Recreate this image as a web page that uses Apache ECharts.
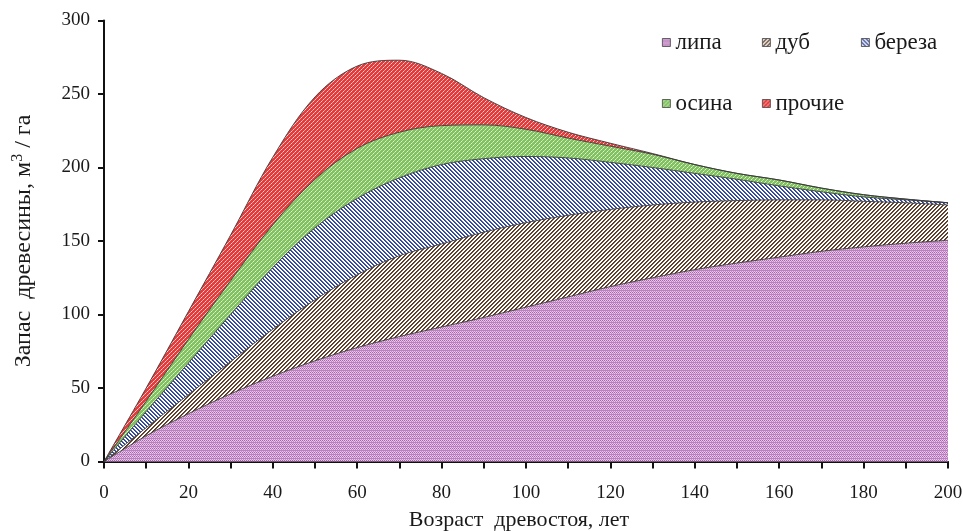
<!DOCTYPE html>
<html>
<head>
<meta charset="utf-8">
<script src="https://cdn.jsdelivr.net/npm/echarts@6/dist/echarts.min.js"></script>
<style>
html,body{margin:0;padding:0;background:#fff;}
#chart{width:963px;height:531px;}
</style>
</head>
<body>
<div id="chart"></div>
<script>
// Age of stand, years
const ages = [0,10,20,30,40,50,60,70,80,90,100,110,120,130,140,150,160,170,180,190,200];
// Growing stock by species, m3/ha (stacked)
const lipa    = [0,17.5,32.5,46,58,68.5,77.5,85,91.5,98,105,112,119,125,130.5,135,139,143,146,148.5,150.5];
const dub     = [0,5.5,13,22,32,41.5,49.5,55,56.5,58,57.5,55.5,52.5,49.5,46,42.5,39,35,31,27.5,24];
const bereza  = [0,11,21.5,32,42,49,52,53,54,50,45,39,32,25.5,19.5,14.5,9.5,5.5,3,2,1.5];
const osina   = [0,7,16,23,29,33,34,31,26.5,23,18.5,13.5,11,9,6,4,4,2.5,1.5,0.5,0];
const prochie = [0,9,19,31,46,56,56,49,35.5,18.5,8,4,2,0.5,0,0,0,0,0,0,0];
const seriesNames = ['липа','дуб','береза','осина','прочие'];
const yTicks = [0,50,100,150,200,250,300];

function tile(w,h,draw){
  const c=document.createElement('canvas'); c.width=w; c.height=h;
  const g=c.getContext('2d'); draw(g); return c;
}
function px(g,x,y,col){ g.fillStyle=col; g.fillRect(x,y,1,1); }
const patLipa = tile(4,4,g=>{
  g.fillStyle='#e8c6e8'; g.fillRect(0,0,4,4);
  px(g,0,0,'#a862ac'); px(g,2,0,'#a862ac'); px(g,1,1,'#c088c4'); px(g,3,1,'#c088c4');
  px(g,1,3,'#c088c4'); px(g,3,3,'#c088c4');
  g.fillStyle='#bb80bf'; g.fillRect(0,2,4,1);
});
const patDub = tile(4,4,g=>{
  g.fillStyle='#ffffff'; g.fillRect(0,0,4,4);
  for(let i=0;i<4;i++){ px(g,3-i,i,'#563824'); px(g,(4-i)%4,i,'#6e4e38'); }
});
const patBereza = tile(4,4,g=>{
  g.fillStyle='#ffffff'; g.fillRect(0,0,4,4);
  for(let i=0;i<4;i++){ px(g,i,i,'#2a3f94'); px(g,(i+1)%4,i,'#4a5ea8'); }
});
const patOsina = tile(4,4,g=>{
  g.fillStyle='#80c25e'; g.fillRect(0,0,4,4);
  px(g,1,1,'#e6f3dc'); px(g,3,3,'#e6f3dc'); px(g,0,2,'#c2e2ae'); px(g,2,0,'#c2e2ae');
});
const patProchie = tile(4,4,g=>{
  g.fillStyle='#e63a3a'; g.fillRect(0,0,4,4);
  px(g,1,1,'#f8d4d4'); px(g,3,3,'#f8d4d4'); px(g,0,2,'#f2a4a4'); px(g,2,0,'#f2a4a4');
});
const pats = [patLipa,patDub,patBereza,patOsina,patProchie];
const values = [lipa,dub,bereza,osina,prochie];

const font = "'Liberation Serif','Times New Roman',serif";

const series = seriesNames.map((n,i)=>({
  name:n, type:'line', stack:'total', smooth:0.35, symbol:'none',
  data: values[i],
  lineStyle:{color:'#3a3a3a', width:0.9},
  itemStyle:{color:{image:pats[i], repeat:'repeat'}},
  areaStyle:{color:{image:pats[i], repeat:'repeat'}, opacity:1}
}));

const legendPos = [
  {left:662, top:31},{left:762, top:31},{left:861, top:31},
  {left:662, top:92},{left:762, top:92}
];
const legends = seriesNames.map((n,i)=>({
  data:[{name:n, itemStyle:{color:{image:pats[i], repeat:'repeat'}, borderColor:'#444', borderWidth:0.8}}],
  left:legendPos[i].left, top:legendPos[i].top, padding:0,
  icon:'rect', itemWidth:8, itemHeight:8, selectedMode:false,
  textStyle:{fontFamily:font, fontSize:23, color:'#1a1a1a'}
}));

const chart = echarts.init(document.getElementById('chart'), null, {renderer:'canvas'});
chart.setOption({
  animation:false,
  backgroundColor:'#ffffff',
  legend: legends,
  grid:{left:104, right:15, top:20.5, bottom:69.5, containLabel:false, outerBoundsMode:'none'},
  xAxis:{
    type:'category', data: ages.map(String), boundaryGap:false,
    name:'Возраст  древостоя, лет', nameLocation:'middle', nameGap:48,
    nameTextStyle:{fontFamily:font, fontSize:22, color:'#1a1a1a', padding:[0,14,0,0]},
    axisLine:{show:true, lineStyle:{color:'#111', width:2}},
    axisTick:{show:true, interval:0, length:7, lineStyle:{color:'#111', width:2}},
    splitLine:{show:false},
    axisLabel:{fontFamily:font, fontSize:19, color:'#1a1a1a', margin:22, interval:1}
  },
  yAxis:{
    type:'value', min:0, max:300, interval:50,
    name:'Запас  древесины, м{sup|3} / га', nameLocation:'middle', nameGap:66, nameRotate:90,
    nameTextStyle:{fontFamily:font, fontSize:24, color:'#1a1a1a',
      rich:{sup:{fontFamily:font, fontSize:16, color:'#1a1a1a', verticalAlign:'top', lineHeight:28}}},
    axisLine:{show:true, lineStyle:{color:'#111', width:2}},
    axisTick:{show:true, length:6, lineStyle:{color:'#111', width:2}},
    splitLine:{show:false},
    axisLabel:{fontFamily:font, fontSize:19, color:'#1a1a1a', margin:14,
      formatter:v=> yTicks.includes(v)? String(v) : ''}
  },
  series: series
});
</script>
</body>
</html>
